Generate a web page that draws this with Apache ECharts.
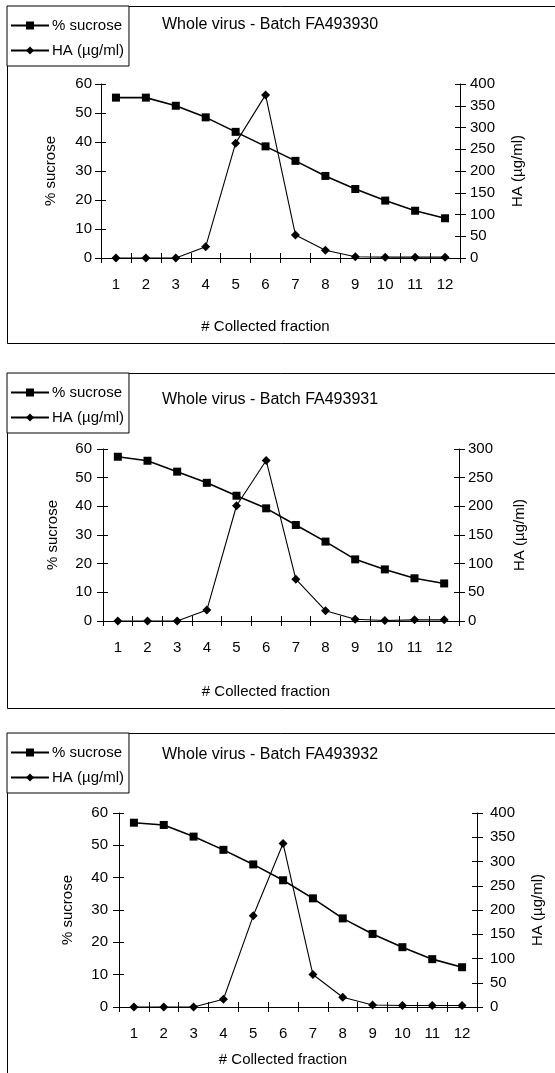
<!DOCTYPE html>
<html>
<head>
<meta charset="utf-8">
<title>Sucrose gradient - whole virus</title>
<script src="https://cdn.jsdelivr.net/npm/echarts@6/dist/echarts.min.js"></script>
<style>
  html, body { margin: 0; padding: 0; background: #fff; }
  #chart { width: 555px; height: 1073px; }
</style>
</head>
<body>
<div id="chart"></div>
<script>
// ---- data
var fractions = ['1', '2', '3', '4', '5', '6', '7', '8', '9', '10', '11', '12'];

var sucrose930 = [55.3, 55.3, 52.5, 48.5, 43.5, 38.5, 33.5, 28.3, 23.8, 19.8, 16.3, 13.7];
var ha930 = [0, 0, 0, 26, 264, 375, 53, 18, 3, 2, 2, 2];

var sucrose931 = [57.3, 55.9, 52.1, 48.2, 43.7, 39.3, 33.5, 27.7, 21.5, 18.0, 14.9, 13.1];
var ha931 = [0, 0, 0, 19, 201, 280, 73, 18, 3, 1, 2, 2];

var sucrose932 = [57.0, 56.3, 52.7, 48.6, 44.1, 39.2, 33.6, 27.4, 22.6, 18.5, 14.8, 12.3];
var ha932 = [0, 0, 0, 16, 188, 337, 67, 20, 4, 3, 3, 3];

var batches = ['FA493930', 'FA493931', 'FA493932'];
var haMax = [400, 300, 400];

var FONT = '"Liberation Sans", Arial, sans-serif';

// ---- layout per panel
var layout = [
    { box: [6, 337], legendTop: 6, titleTop: 17, grid: { left: 101, top: 84, width: 359, height: 174 },
      leftGap: 43, rightGap: 50, xNameGap: 61, lblL: 9, lblR: 10 },
    { box: [373, 335], legendTop: 373, titleTop: 392, grid: { left: 103, top: 449, width: 356, height: 172 },
      leftGap: 43, rightGap: 53, xNameGap: 63, lblL: 11, lblR: 9 },
    { box: [733, 400], legendTop: 733, titleTop: 747, grid: { left: 119, top: 813, width: 358, height: 194 },
      leftGap: 44, rightGap: 53, xNameGap: 45, lblL: 11, lblR: 13 }
];

var panelData = [
    { sucrose: sucrose930, ha: ha930 },
    { sucrose: sucrose931, ha: ha931 },
    { sucrose: sucrose932, ha: ha932 }
];

var txt = { color: '#000', fontFamily: FONT, fontSize: 15 };
var black = { color: '#000', width: 1 };

var option = {
    backgroundColor: '#fff',
    animation: false,
    title: [],
    legend: [],
    grid: [],
    xAxis: [],
    yAxis: [],
    series: [],
    graphic: []
};

layout.forEach(function (L, i) {
    // panel frame
    option.graphic.push({
        type: 'rect',
        shape: { x: 7.5, y: L.box[0] + 0.5, width: 600, height: L.box[1] },
        style: { fill: 'none', stroke: '#000', lineWidth: 1 },
        silent: true
    });

    option.title.push({
        text: 'Whole virus - Batch ' + batches[i],
        left: 162,
        top: L.titleTop,
        padding: 0,
        textStyle: { color: '#000', fontFamily: FONT, fontSize: 16, fontWeight: 'normal' }
    });

    option.legend.push({
        data: ['% sucrose', 'HA (µg/ml)'],
        orient: 'vertical',
        left: 7,
        top: L.legendTop,
        backgroundColor: '#fff',
        borderColor: '#000',
        borderWidth: 1,
        padding: [11, 5, 7, 3],
        itemGap: 8,
        itemWidth: 38,
        itemHeight: 10,
        selectedMode: false,
        textStyle: { color: '#000', fontFamily: FONT, fontSize: 15, lineHeight: 17, padding: [0, 0, 0, -2] }
    });

    option.grid.push(Object.assign({ containLabel: false }, L.grid));

    // x axes: one with outer ticks + labels, one with inner ticks only
    option.xAxis.push({
        type: 'category',
        gridIndex: i,
        data: fractions,
        boundaryGap: true,
        axisLine: { lineStyle: black },
        axisTick: { show: true, length: 5, lineStyle: black },
        axisLabel: Object.assign({ margin: 19 }, txt),
        name: '# Collected fraction',
        nameLocation: 'middle',
        nameGap: L.xNameGap,
        nameTextStyle: Object.assign({ padding: [0, 30, 0, 0] }, txt)
    }, {
        type: 'category',
        gridIndex: i,
        data: fractions,
        boundaryGap: true,
        position: 'bottom',
        axisLine: { show: false },
        axisTick: { show: true, inside: true, length: 5, lineStyle: black },
        axisLabel: { show: false }
    });

    // y axes: left (sucrose) and right (HA), each doubled for crossing ticks
    option.yAxis.push({
        type: 'value',
        gridIndex: i,
        position: 'left',
        min: 0, max: 60, interval: 10,
        axisLine: { show: true, lineStyle: black },
        axisTick: { show: true, length: 6, lineStyle: black },
        axisLabel: Object.assign({ margin: L.lblL }, txt),
        splitLine: { show: false },
        name: '% sucrose',
        nameLocation: 'middle',
        nameGap: L.leftGap,
        nameTextStyle: txt
    }, {
        type: 'value',
        gridIndex: i,
        position: 'left',
        min: 0, max: 60, interval: 10,
        axisLine: { show: false },
        axisTick: { show: true, inside: true, length: 5, lineStyle: black },
        axisLabel: { show: false },
        splitLine: { show: false }
    }, {
        type: 'value',
        gridIndex: i,
        position: 'right',
        min: 0, max: haMax[i], interval: 50,
        axisLine: { show: true, lineStyle: black },
        axisTick: { show: true, length: 6, lineStyle: black },
        axisLabel: Object.assign({ margin: L.lblR }, txt),
        splitLine: { show: false },
        name: 'HA (µg/ml)',
        nameLocation: 'middle',
        nameGap: L.rightGap,
        nameRotate: 90,
        nameTextStyle: txt
    }, {
        type: 'value',
        gridIndex: i,
        position: 'right',
        min: 0, max: haMax[i], interval: 50,
        axisLine: { show: false },
        axisTick: { show: true, inside: true, length: 5, lineStyle: black },
        axisLabel: { show: false },
        splitLine: { show: false }
    });

    option.series.push({
        name: '% sucrose',
        type: 'line',
        xAxisIndex: 2 * i,
        yAxisIndex: 4 * i,
        data: panelData[i].sucrose,
        symbol: 'rect',
        symbolSize: 8,
        showAllSymbol: true,
        itemStyle: { color: '#000' },
        lineStyle: { color: '#000', width: 1.6 }
    }, {
        name: 'HA (µg/ml)',
        type: 'line',
        xAxisIndex: 2 * i,
        yAxisIndex: 4 * i + 2,
        data: panelData[i].ha,
        symbol: 'diamond',
        symbolSize: 9,
        showAllSymbol: true,
        itemStyle: { color: '#000' },
        lineStyle: { color: '#000', width: 1.1 }
    });
});

var chart = echarts.init(document.getElementById('chart'));
chart.setOption(option);
</script>
</body>
</html>
